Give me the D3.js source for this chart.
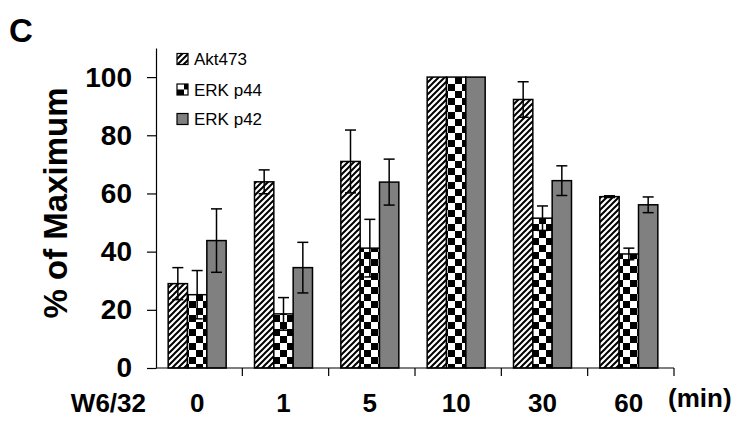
<!DOCTYPE html>
<html>
<head>
<meta charset="utf-8">
<script src="https://cdn.jsdelivr.net/npm/d3@7/dist/d3.min.js"></script>
<style>
	body { margin: 0; background: #fff; }
	text { font-family: "Liberation Sans", Arial, sans-serif; }
</style>
</head>
<body>
<script>
var times = ['0', '1', '5', '10', '30', '60'];
var seriesNames = ['Akt473', 'ERK p44', 'ERK p42'];
var akt = [29, 64, 71, 100, 92.3, 58.9];
var aktErr = [5.5, 4.1, 10.8, 0, 6.1, 0.3];
var erk44 = [25.2, 18.6, 41.2, 100, 51.5, 39.2];
var erk44Err = [8.3, 5.6, 9.9, 0, 4.2, 2];
var erk42 = [43.8, 34.5, 63.9, 100, 64.4, 56.1];
var erk42Err = [10.9, 8.7, 7.9, 0, 5.1, 2.7];
var yTicks = [0, 20, 40, 60, 80, 100];

var w = 738;
var h = 423;
var plotLeft = 156, plotRight = 674, plotBottom = 368, plotTop = 48;

var svg = d3.select('body')
	.append('svg')
	.attr('width', w)
	.attr('height', h);

// fill patterns
var defs = svg.append('defs');
var hatch = defs.append('pattern')
	.attr('id', 'hatch')
	.attr('patternUnits', 'userSpaceOnUse')
	.attr('width', 6)
	.attr('height', 6);
hatch.append('rect').attr('width', 6).attr('height', 6).attr('fill', '#fff');
hatch.append('path')
	.attr('d', 'M-1,1 l2,-2 M0,6 l6,-6 M5,7 l2,-2')
	.attr('stroke', '#000')
	.attr('stroke-width', 2);

var checker = defs.append('pattern')
	.attr('id', 'checker')
	.attr('patternUnits', 'userSpaceOnUse')
	.attr('width', 14)
	.attr('height', 14);
checker.append('rect').attr('width', 14).attr('height', 14).attr('fill', '#fff');
checker.append('rect').attr('width', 7).attr('height', 7).attr('fill', '#000');
checker.append('rect').attr('x', 7).attr('y', 7).attr('width', 7).attr('height', 7).attr('fill', '#000');

var fills = ['url(#hatch)', 'url(#checker)', '#808080'];

var series = [
	{ name: seriesNames[0], values: akt, errs: aktErr, fill: fills[0] },
	{ name: seriesNames[1], values: erk44, errs: erk44Err, fill: fills[1] },
	{ name: seriesNames[2], values: erk42, errs: erk42Err, fill: fills[2] }
];

var x0 = d3.scaleBand().domain(times).range([plotLeft, plotRight]);
var groupW = 58;
var x1 = d3.scaleBand().domain(seriesNames).range([0, groupW]);
var shift = (x0.bandwidth() - groupW) / 2 - 2;
var y = d3.scaleLinear().domain([0, 110]).range([plotBottom, plotTop]);

// bars
series.forEach(function(s) {
	var g = svg.append('g');
	g.selectAll('rect')
		.data(s.values)
		.enter()
		.append('rect')
		.attr('x', function(d, i) { return x0(times[i]) + shift + x1(s.name); })
		.attr('y', function(d) { return y(d); })
		.attr('width', x1.bandwidth())
		.attr('height', function(d) { return plotBottom - y(d); })
		.attr('fill', s.fill)
		.attr('stroke', '#000')
		.attr('stroke-width', 1.5);

	// error bars
	s.values.forEach(function(v, i) {
		var e = s.errs[i];
		if (!e) return;
		var cx = x0(times[i]) + shift + x1(s.name) + x1.bandwidth() / 2;
		g.append('line')
			.attr('x1', cx).attr('x2', cx)
			.attr('y1', y(v + e)).attr('y2', y(v - e))
			.attr('stroke', '#000').attr('stroke-width', 1.5);
		[v + e, v - e].forEach(function(t) {
			g.append('line')
				.attr('x1', cx - 5.5).attr('x2', cx + 5.5)
				.attr('y1', y(t)).attr('y2', y(t))
				.attr('stroke', '#000').attr('stroke-width', 1.5);
		});
	});
});

// y axis
var yAxis = d3.axisLeft(y).tickValues(yTicks).tickSize(9).tickPadding(15).tickSizeOuter(0);
var yg = svg.append('g')
	.attr('transform', 'translate(' + plotLeft + ',0)')
	.call(yAxis);
yg.select('.domain').attr('stroke', '#000').attr('stroke-width', 1.2);
yg.selectAll('.tick line').attr('stroke', '#000').attr('stroke-width', 1.2);
yg.selectAll('.tick text')
	.attr('font-size', 28)
	.attr('font-weight', 'bold')
	.attr('font-family', '"Liberation Sans", Arial, sans-serif')
	.attr('fill', '#000');

// x axis line with ticks at category boundaries
svg.append('line')
	.attr('x1', plotLeft).attr('x2', plotRight)
	.attr('y1', plotBottom).attr('y2', plotBottom)
	.attr('stroke', '#000').attr('stroke-width', 1.2);
svg.selectAll('.xtick')
	.data(times)
	.enter()
	.append('line')
	.attr('class', 'xtick')
	.attr('x1', function(d) { return x0(d) + x0.bandwidth(); })
	.attr('x2', function(d) { return x0(d) + x0.bandwidth(); })
	.attr('y1', plotBottom).attr('y2', plotBottom + 8)
	.attr('stroke', '#000').attr('stroke-width', 1.2);

// x labels
svg.selectAll('.xlabel')
	.data(times)
	.enter()
	.append('text')
	.attr('class', 'xlabel')
	.attr('x', function(d) { return x0(d) + x0.bandwidth() / 2 - 2; })
	.attr('y', 412)
	.attr('text-anchor', 'middle')
	.attr('font-size', 26)
	.attr('font-weight', 'bold')
	.text(function(d) { return d; });

svg.append('text')
	.attr('x', 146).attr('y', 412)
	.attr('text-anchor', 'end')
	.attr('font-size', 26)
	.attr('font-weight', 'bold')
	.text('W6/32');

svg.append('text')
	.attr('x', 668).attr('y', 407)
	.attr('font-size', 26)
	.attr('font-weight', 'bold')
	.text('(min)');

// y title
svg.append('text')
	.attr('transform', 'translate(67,203) rotate(-90)')
	.attr('text-anchor', 'middle')
	.attr('font-size', 33)
	.attr('font-weight', 'bold')
	.text('% of Maximum');

// panel letter
svg.append('text')
	.attr('x', 9).attr('y', 42)
	.attr('font-size', 33)
	.attr('font-weight', 'bold')
	.text('C');

// legend
var legend = svg.selectAll('.legend')
	.data(series)
	.enter()
	.append('g')
	.attr('class', 'legend')
	.attr('transform', function(d, i) { return 'translate(177,' + [59, 89.5, 119][i] + ')'; });
legend.append('rect')
	.attr('x', 0).attr('y', -5.5)
	.attr('width', 11).attr('height', 11)
	.attr('fill', function(d) { return d.fill; })
	.attr('stroke', '#000')
	.attr('stroke-width', 1.2);
legend.append('text')
	.attr('x', 17).attr('y', 6)
	.attr('font-size', 17)
	.text(function(d) { return d.name; });
</script>
</body>
</html>
